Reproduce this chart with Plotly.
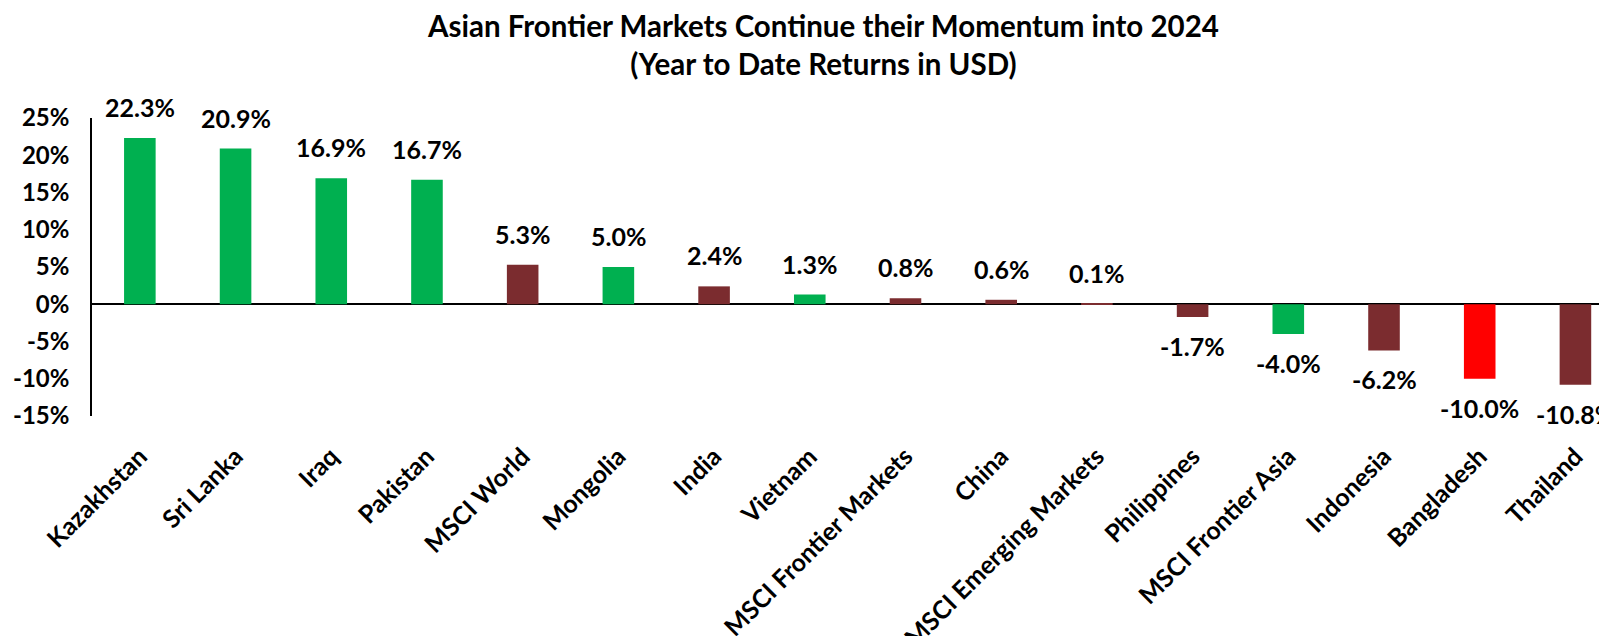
import plotly.graph_objects as go

categories = ["Kazakhstan", "Sri Lanka", "Iraq", "Pakistan", "MSCI World", "Mongolia", "India",
              "Vietnam", "MSCI Frontier Markets", "China", "MSCI Emerging Markets", "Philippines",
              "MSCI Frontier Asia", "Indonesia", "Bangladesh", "Thailand"]
values = [22.3, 20.9, 16.9, 16.7, 5.3, 5.0, 2.4, 1.3, 0.8, 0.6, 0.1, -1.7, -4.0, -6.2, -10.0, -10.8]
GREEN, DARK, RED = "#00B050", "#7B2C2F", "#FF0000"
colors = [GREEN, GREEN, GREEN, GREEN, DARK, GREEN, DARK, GREEN, DARK, DARK, DARK, DARK,
          GREEN, DARK, RED, DARK]
tick_vals = [-15, -10, -5, 0, 5, 10, 15, 20, 25]
tick_text = [f"{v}%" for v in tick_vals]

FONT = "Lato"

fig = go.Figure(go.Bar(x=categories, y=values, marker=dict(color=colors, line=dict(width=0)),
                       width=0.33, cliponaxis=False))

for c, v in zip(categories, values):
    fig.add_annotation(x=c, y=v, text=f"<b>{v:.1f}%</b>", showarrow=False,
                       yanchor="middle", yshift=31 if v >= 0 else -29,
                       font=dict(family=FONT, size=25, color="black"))

fig.add_annotation(xref="paper", yref="paper", x=0.4825, y=1.245, xanchor="center", yanchor="middle",
                   showarrow=False,
                   text="<b>Asian Frontier Markets Continue their Momentum into 2024<br>(Year to Date Returns in USD)</b>",
                   font=dict(family=FONT, size=29.5, color="black"))

# page body adds an 8px offset; size the figure so the plot lands where the reference has it
fig.update_layout(
    width=1599, height=628,
    paper_bgcolor="white", plot_bgcolor="white",
    margin=dict(l=84, r=0, t=110, b=220),
    showlegend=False,
)
fig.update_xaxes(range=[-0.5, 15.33], tickangle=-45, showline=False, ticks="",
                 tickfont=dict(family=FONT, size=25, color="black", weight="bold"),
                 showgrid=False, fixedrange=True, automargin=False, ticklabelstandoff=20)
fig.update_yaxes(range=[-15, 25], tickvals=tick_vals, ticktext=tick_text,
                 tickfont=dict(family=FONT, size=24, color="black", weight="bold"),
                 showgrid=False, zeroline=True, zerolinecolor="black", zerolinewidth=1.5,
                 showline=True, linecolor="black", linewidth=1.5, ticks="",
                 ticklabelstandoff=16, automargin=False)

fig.write_html("out.html")
